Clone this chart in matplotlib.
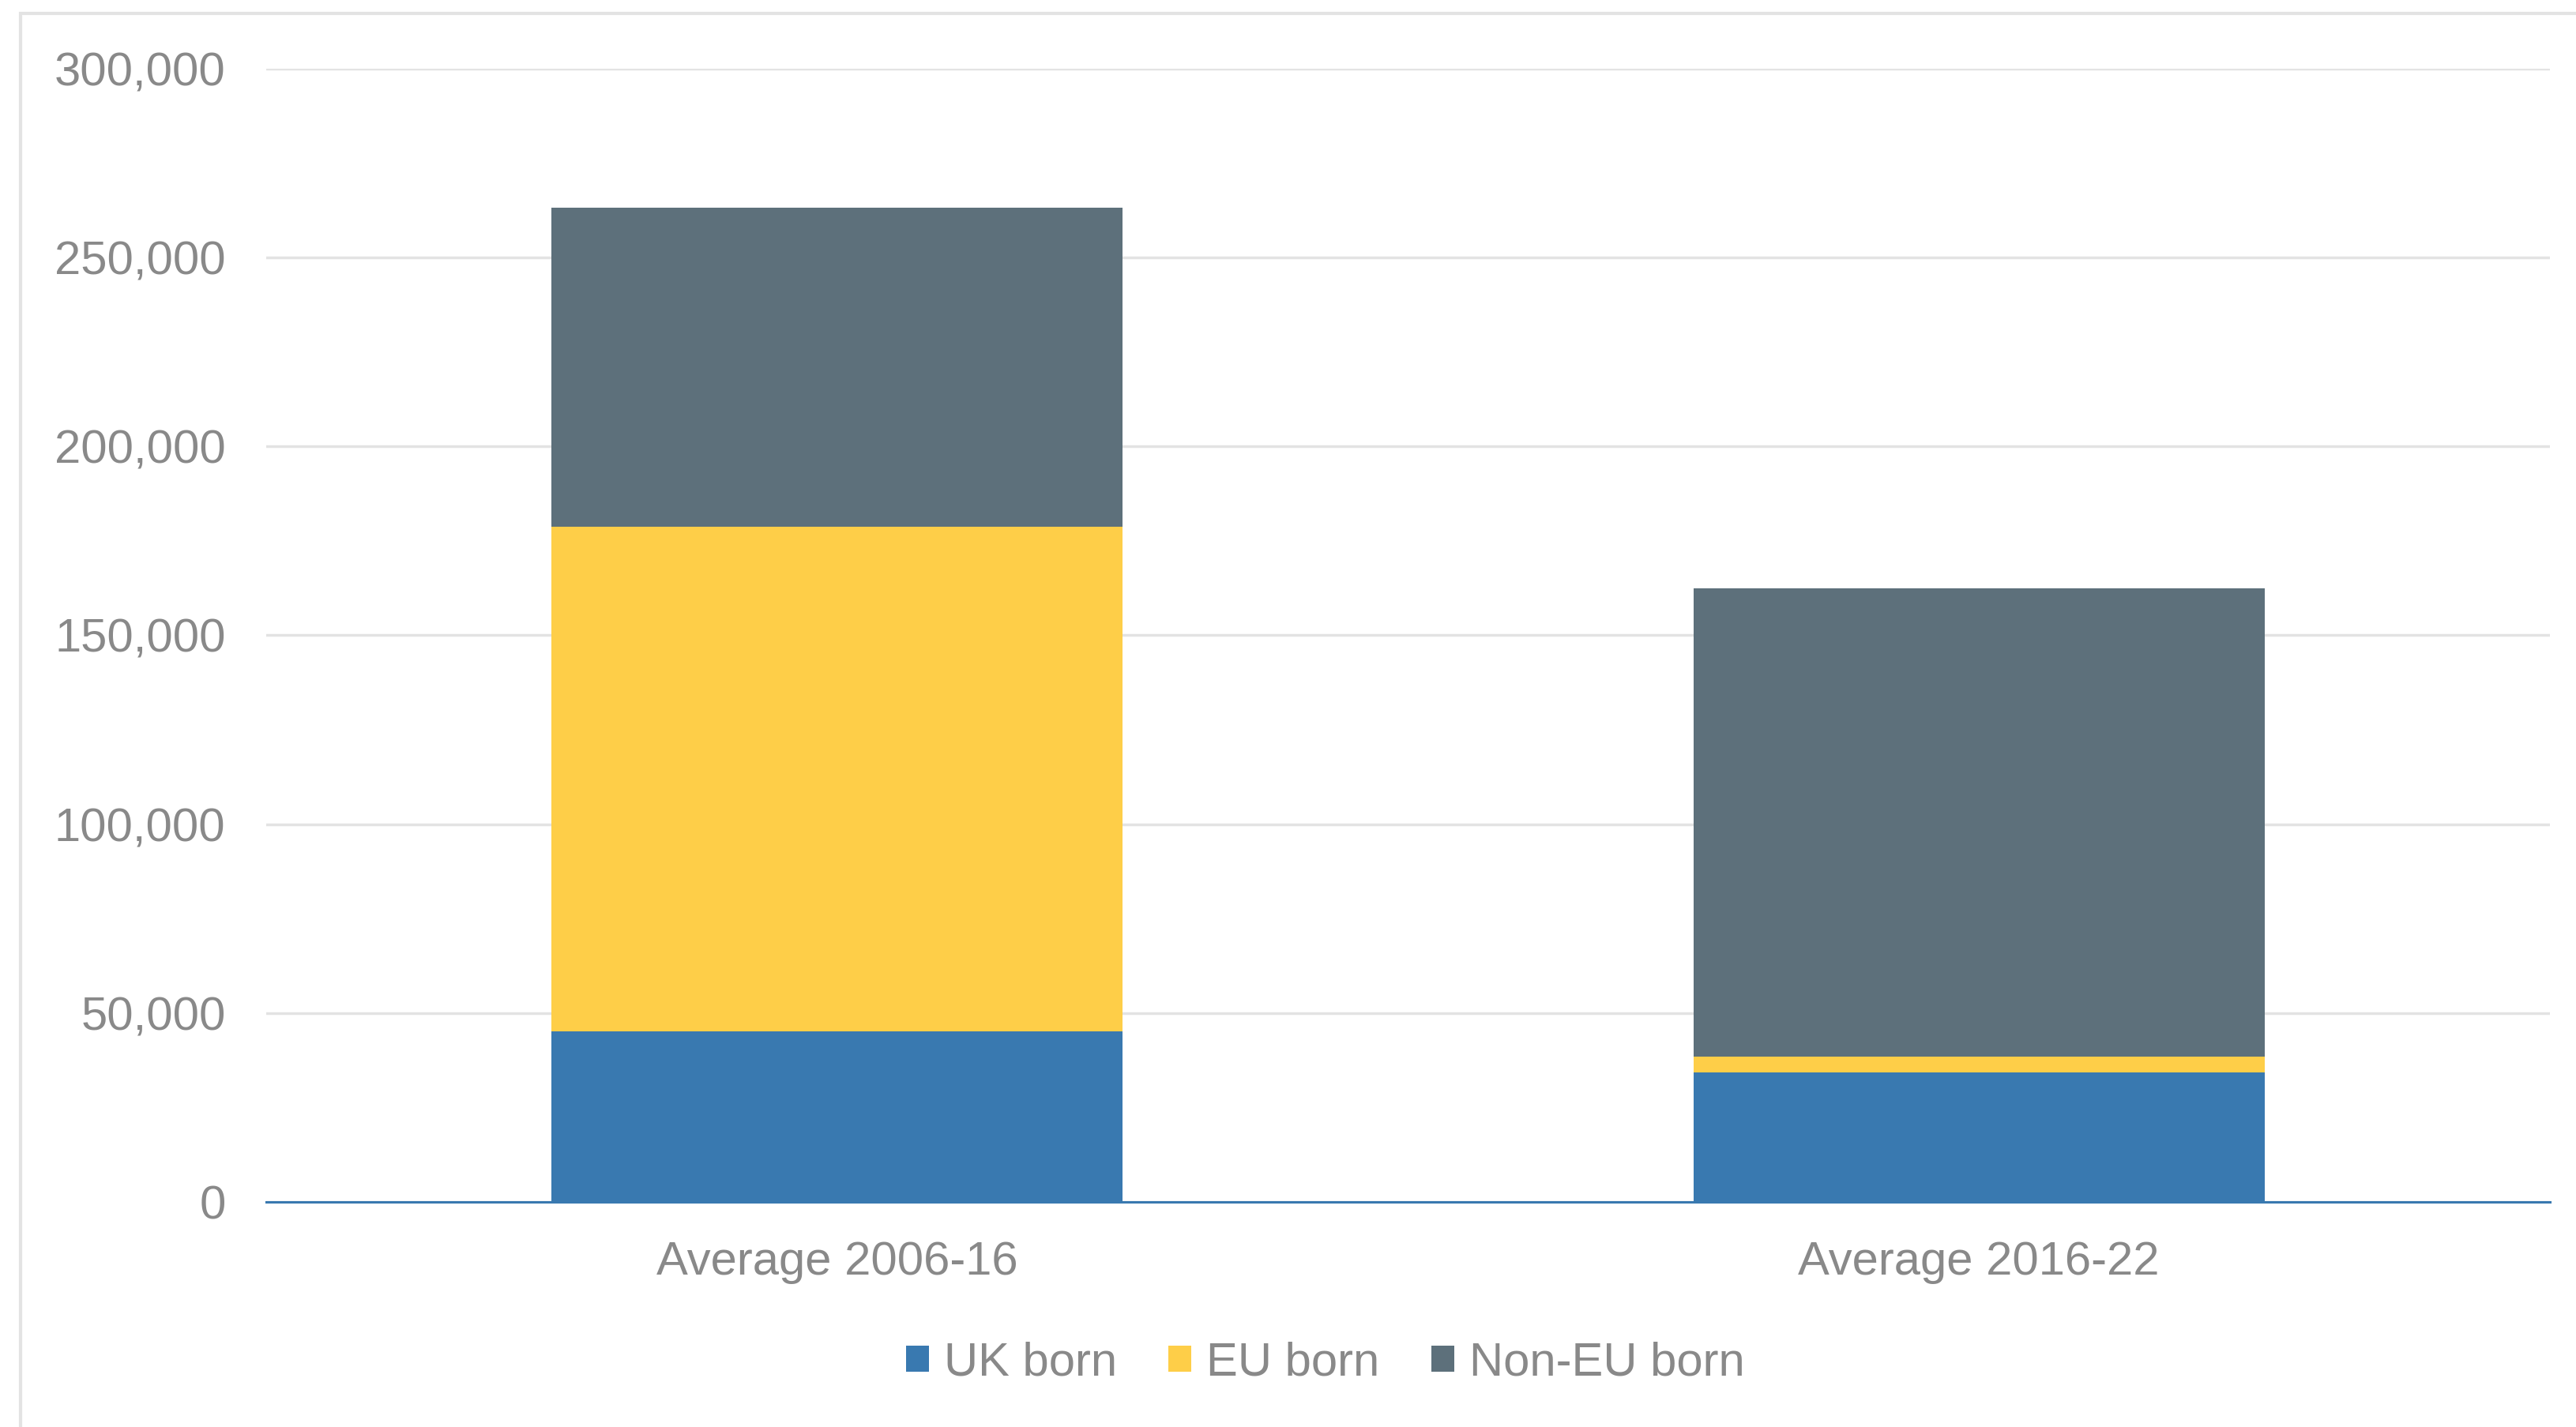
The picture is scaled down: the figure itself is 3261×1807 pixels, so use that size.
import matplotlib.pyplot as plt
import numpy as np
from matplotlib.patches import Patch, Rectangle
from matplotlib.ticker import FuncFormatter

# Average annual numbers by country of birth
periods = ['Average 2006-16', 'Average 2016-22']
uk_born = [45200, 34300]
eu_born = [133500, 4200]
non_eu_born = [84500, 123900]

series_names = ['UK born', 'EU born', 'Non-EU born']
colors = ['#3979B0', '#FECE48', '#5D707B']
text_color = '#898989'

plt.rcParams['font.family'] = ['Liberation Sans', 'DejaVu Sans']

fig = plt.figure(figsize=(32.61, 18.07), dpi=100)
ax = fig.add_axes([0.10334, 0.15772, 0.88654, 0.79414])

x = np.arange(len(periods))
bottom = np.zeros(len(periods))
for vals, col in zip([uk_born, eu_born, non_eu_born], colors):
    ax.bar(x, vals, width=0.5, bottom=bottom, color=col, zorder=2)
    bottom += np.array(vals)

ax.set_xlim(-0.5, 1.5)
ax.set_ylim(0, 300000)
ax.set_yticks(np.arange(0, 300001, 50000))
ax.yaxis.set_major_formatter(FuncFormatter(lambda v, p: f'{int(v):,}'))
ax.set_xticks(x)
ax.set_xticklabels(periods)

ax.grid(axis='y', color='#E3E3E3', linewidth=2.5, zorder=0)
ax.set_axisbelow(True)
for side in ['top', 'right', 'left']:
    ax.spines[side].set_visible(False)
ax.spines['bottom'].set_color('#3979B0')
ax.spines['bottom'].set_linewidth(2.2)
ax.spines['bottom'].set_zorder(3)

ax.tick_params(axis='y', length=0, pad=37, labelsize=43, labelcolor=text_color)
ax.tick_params(axis='x', length=0, pad=35, labelsize=43, labelcolor=text_color)

handles = [Patch(facecolor=c, edgecolor='none') for c in colors]
fig.legend(handles, series_names, loc='center', bbox_to_anchor=(0.5145, 0.0448),
           ncol=3, frameon=False, fontsize=43, labelcolor=text_color,
           handlelength=0.48, handleheight=0.48, handletextpad=0.32,
           columnspacing=1.1, borderaxespad=0)

# light outer frame around the chart area
fig.patches.append(Rectangle((26 / 3261, -0.05), 1.1, 1 - 17 / 1807 + 0.05,
                             transform=fig.transFigure, fill=False,
                             edgecolor='#E3E3E3', linewidth=3))

fig.savefig('out.png', dpi=100)
